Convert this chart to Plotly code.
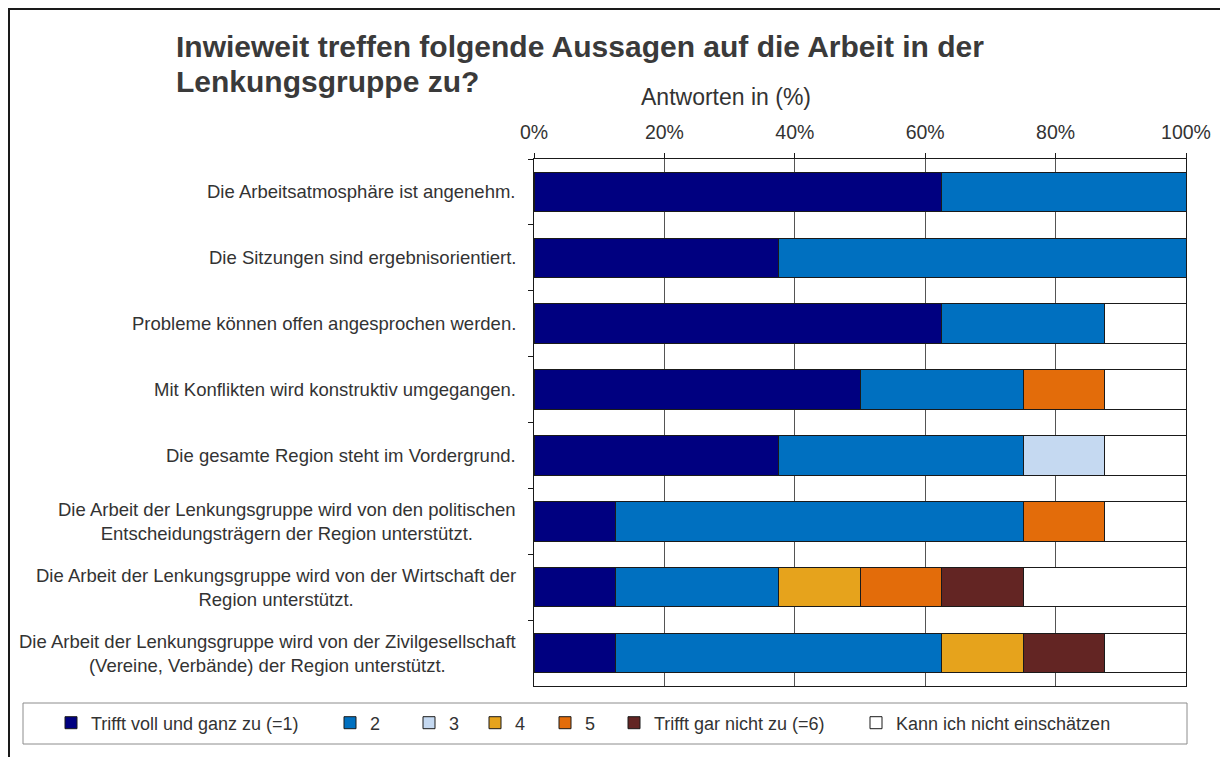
import plotly.graph_objects as go

# Likert answers, share of respondents in %
STATEMENTS = [
    "Die Arbeitsatmosphäre ist angenehm.",
    "Die Sitzungen sind ergebnisorientiert.",
    "Probleme können offen angesprochen werden.",
    "Mit Konflikten wird konstruktiv umgegangen.",
    "Die gesamte Region steht im Vordergrund.",
    "Die Arbeit der Lenkungsgruppe wird von den politischen<br>Entscheidungsträgern der Region unterstützt.",
    "Die Arbeit der Lenkungsgruppe wird von der Wirtschaft der<br>Region unterstützt.",
    "Die Arbeit der Lenkungsgruppe wird von der Zivilgesellschaft<br>(Vereine, Verbände) der Region unterstützt.",
]
SERIES_NAMES = [
    "Trifft voll und ganz zu (=1)", "2", "3", "4", "5",
    "Trifft gar nicht zu (=6)", "Kann ich nicht einschätzen",
]
S1 = [62.5, 37.5, 62.5, 50, 37.5, 12.5, 12.5, 12.5]
S2 = [37.5, 62.5, 25, 25, 37.5, 62.5, 25, 50]
S3 = [None, None, None, None, 12.5, None, None, None]
S4 = [None, None, None, None, None, None, 12.5, 12.5]
S5 = [None, None, None, 12.5, None, 12.5, 12.5, None]
S6 = [None, None, None, None, None, None, 12.5, 12.5]
S7 = [None, None, 12.5, 12.5, 12.5, 12.5, 25, 12.5]
TICKS = [0, 20, 40, 60, 80, 100]

COLORS = ["#000080", "#0070c0", "#c5d9f1", "#e6a31c", "#e36c0a", "#632523", "#ffffff"]
INK = "#333333"
FONT = "Liberation Sans, Arial, sans-serif"

# the page body adds an 8px offset; layout below is given in page pixels
OFF = 8
W, H = 1228 - OFF, 757 - OFF
L, R, T, B = 534 - OFF, 1186 - OFF, 159 - OFF, 686 - OFF

# left edge of each legend entry's text (page px), Excel-like spacing
LEGEND_TEXT_X = [91, 370, 449, 515, 585, 654, 896]


def px_x(p):
    return (p - OFF - L) / (R - L)


def px_y(p):
    return (B - (p - OFF)) / (B - T)


fig = go.Figure()
for i, (name, vals, col) in enumerate(zip(SERIES_NAMES, [S1, S2, S3, S4, S5, S6, S7], COLORS)):
    fig.add_bar(
        y=STATEMENTS, x=vals, name=name, orientation="h",
        marker=dict(color=col, line=dict(color="#1a1a1a", width=1)),
        legend="legend" if i == 0 else f"legend{i + 1}",
    )

# category labels: centred lines, right-aligned block
for s in STATEMENTS:
    fig.add_annotation(
        x=px_x(518), xref="paper", y=s, yref="y", text=s, showarrow=False,
        xanchor="right", yanchor="middle", align="center",
        font=dict(family=FONT, size=18.5, color=INK),
    )

for line, ypx in [("Inwieweit treffen folgende Aussagen auf die Arbeit in der", 46),
                  ("Lenkungsgruppe zu?", 81)]:
    fig.add_annotation(
        x=px_x(174), xref="paper", y=px_y(ypx), yref="paper", showarrow=False,
        xanchor="left", yanchor="middle", text=f"<b>{line}</b>",
        font=dict(family=FONT, size=30, color="#3a3a3a"),
    )
fig.add_annotation(
    x=px_x(726), xref="paper", y=px_y(97), yref="paper", showarrow=False,
    xanchor="center", yanchor="middle",
    text="Antworten in (%)", font=dict(family=FONT, size=23, color=INK),
)

# outer frame and legend box
fig.add_shape(type="rect", xref="paper", yref="paper",
              x0=px_x(OFF + 1), x1=px_x(1225), y0=px_y(1228 - OFF - 5), y1=px_y(OFF + 1),
              line=dict(color="#1a1a1a", width=2), layer="below")
fig.add_shape(type="rect", xref="paper", yref="paper",
              x0=px_x(23), x1=px_x(1187), y0=px_y(744), y1=px_y(703),
              line=dict(color="#8c8c8c", width=1), layer="below")

legends = {}
for i, tx in enumerate(LEGEND_TEXT_X):
    legends["legend" if i == 0 else f"legend{i + 1}"] = dict(
        orientation="h", x=px_x(tx - 40), xanchor="left",
        y=px_y(723), yanchor="middle",
        font=dict(family=FONT, size=18, color=INK),
        bgcolor="rgba(0,0,0,0)", itemwidth=30,
    )

fig.update_layout(
    barmode="stack", bargap=0.4,
    width=W, height=H,
    margin=dict(l=L, r=W - R, t=T, b=H - B, autoexpand=False),
    paper_bgcolor="white", plot_bgcolor="white",
    font=dict(family=FONT, size=16, color=INK),
    showlegend=True,
    **legends,
)
fig.update_xaxes(
    side="top", range=[0, 100], tickvals=TICKS, ticktext=[f"{t}%" for t in TICKS],
    tickfont=dict(family=FONT, size=19.5, color=INK),
    showgrid=True, gridcolor="#555555", gridwidth=1,
    showline=True, linecolor="#1a1a1a", linewidth=1, mirror=True,
    ticks="outside", ticklen=5, tickcolor="#1a1a1a", zeroline=False,
    ticklabelstandoff=6,
)
fig.update_yaxes(
    autorange="reversed", showticklabels=False,
    ticks="outside", tickson="boundaries", ticklen=5, tickcolor="#1a1a1a",
    showline=True, linecolor="#1a1a1a", linewidth=1, mirror=True, showgrid=False,
)

fig.write_html("out.html")
